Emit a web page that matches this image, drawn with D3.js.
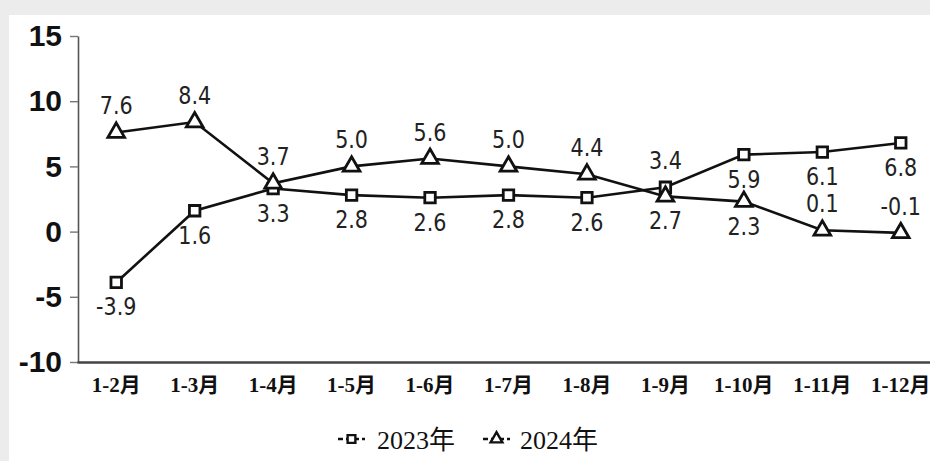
<!DOCTYPE html>
<html>
<head>
<meta charset="utf-8">
<script src="https://cdn.jsdelivr.net/npm/d3@7"></script>
<style>
  html, body { margin: 0; padding: 0; background: #ececec; }
  svg { display: block; }
</style>
</head>
<body>
<svg id="chart" width="930" height="461"></svg>
<script>
const categories = ["1-2月","1-3月","1-4月","1-5月","1-6月","1-7月","1-8月","1-9月","1-10月","1-11月","1-12月"];
const values2023 = [-3.9, 1.6, 3.3, 2.8, 2.6, 2.8, 2.6, 3.4, 5.9, 6.1, 6.8];
const values2024 = [7.6, 8.4, 3.7, 5.0, 5.6, 5.0, 4.4, 2.7, 2.3, 0.1, -0.1];
const yTicks = [-10, -5, 0, 5, 10, 15];
const seriesNames = ["2023年", "2024年"];
const labelSide2023 = ["below","below","below","below","below","below","below","above","below","below","below"];
const labelSide2024 = ["above","above","above","above","above","above","above","below","below","above","above"];

const svg = d3.select("#chart");
svg.append("rect").attr("x", 9).attr("y", 15).attr("width", 921).attr("height", 446).attr("fill", "#ffffff");

const x = d3.scaleBand().domain(categories).range([77, 940]);
const cx = d => x(d) + x.bandwidth() / 2;
const y = d3.scaleLinear().domain([-10, 15]).range([362, 36]);

// Y axis
const yAxis = svg.append("g").attr("transform", "translate(78,0)")
  .call(d3.axisLeft(y).tickValues(yTicks).tickSize(8).tickSizeOuter(0).tickPadding(8).tickFormat(d => String(d)));
yAxis.select(".domain").attr("stroke", "#555").attr("stroke-width", 1.6);
yAxis.selectAll(".tick line").attr("stroke", "#777").attr("stroke-width", 1.4);
yAxis.selectAll(".tick text")
  .attr("font-family", "'Liberation Sans', Arial, sans-serif")
  .attr("font-weight", "bold").attr("font-size", 30).attr("fill", "#111");

// X axis
const xAxis = svg.append("g").attr("transform", "translate(0,362)")
  .call(d3.axisBottom(x).tickSize(0).tickPadding(15));
xAxis.select(".domain").attr("stroke", "#444").attr("stroke-width", 2.6);
xAxis.selectAll(".tick text")
  .attr("font-family", "'Liberation Serif', 'Noto Sans CJK SC', serif")
  .attr("font-weight", "bold").attr("font-size", 21).attr("fill", "#111");

const series = [
  { name: seriesNames[0], values: values2023, sides: labelSide2023, symbol: d3.symbolSquare, size: 110 },
  { name: seriesNames[1], values: values2024, sides: labelSide2024, symbol: d3.symbolTriangle, size: 120 }
];

const line = d3.line().x((d, i) => cx(categories[i])).y(d => y(d));

series.forEach(s => {
  svg.append("path").datum(s.values)
    .attr("d", line).attr("fill", "none").attr("stroke", "#111").attr("stroke-width", 2.6);
});

series.forEach(s => {
  svg.append("g").selectAll("path").data(s.values).join("path")
    .attr("transform", (d, i) => `translate(${cx(categories[i])},${y(d)})`)
    .attr("d", d3.symbol().type(s.symbol).size(s.size)())
    .attr("fill", "#fff").attr("stroke", "#111").attr("stroke-width", 2.8);
});

series.forEach(s => {
  svg.append("g").selectAll("text").data(s.values).join("text")
    .attr("transform", (d, i) => {
      const yy = y(d) + (s.sides[i] === "above" ? -18 : 33);
      return `translate(${cx(categories[i])},${yy}) scale(1,1.1)`;
    })
    .attr("text-anchor", "middle")
    .attr("font-family", "'DejaVu Sans Condensed', 'DejaVu Sans', sans-serif")
    .attr("font-stretch", "condensed")
    .attr("font-size", 23).attr("fill", "#222")
    .text(d => d.toFixed(1));
});

// Legend
const legend = svg.append("g");
const legendItems = [
  { name: seriesNames[0], symbol: d3.symbolSquare, size: 60, x0: 338, tx: 377 },
  { name: seriesNames[1], symbol: d3.symbolTriangle, size: 60, x0: 483, tx: 520 }
];
legendItems.forEach(it => {
  const g = legend.append("g");
  g.append("line").attr("x1", it.x0).attr("x2", it.x0 + 27).attr("y1", 439).attr("y2", 439)
    .attr("stroke", "#111").attr("stroke-width", 2.4).attr("stroke-dasharray", "5,3");
  g.append("path").attr("transform", `translate(${it.x0 + 13.5},439)`)
    .attr("d", d3.symbol().type(it.symbol).size(it.size)())
    .attr("fill", "#fff").attr("stroke", "#111").attr("stroke-width", 2.4);
  g.append("text").attr("x", it.tx).attr("y", 449)
    .attr("font-family", "'Liberation Serif', 'Noto Sans CJK SC', serif")
    .attr("font-size", 26).attr("fill", "#111").text(it.name);
});
</script>
</body>
</html>
